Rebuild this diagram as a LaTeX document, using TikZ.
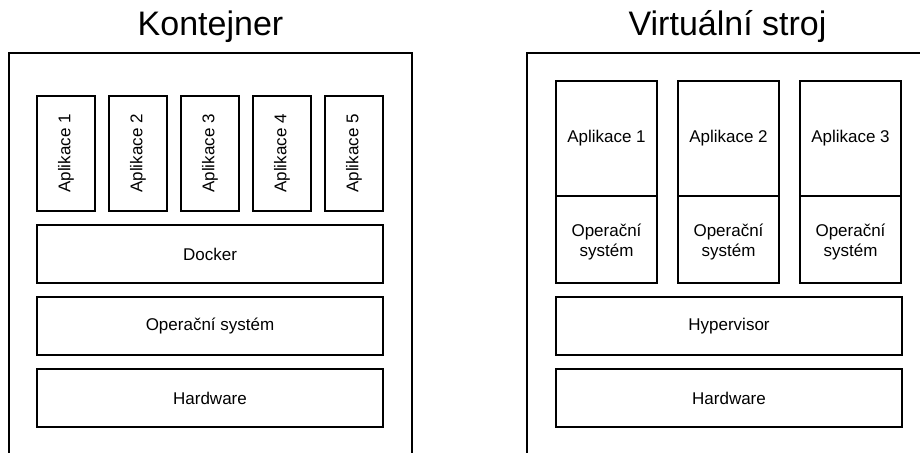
\documentclass[tikz,border=0pt]{standalone}
\usepackage{fontspec}
\setmainfont{Liberation Sans}
\begin{document}
\begin{tikzpicture}[x=1pt,y=-1pt,
  frame/.style={draw=black, line width=1.3pt},
  blk/.style={draw=black, line width=1.3pt, fill=white, inner sep=0pt,
    align=center, font=\fontsize{17}{20}\selectfont},
  lbl/.style={inner sep=0pt, align=center, font=\fontsize{17}{20}\selectfont},
  title/.style={font=\fontsize{34}{40}\selectfont, anchor=base}]
\useasboundingbox (0,0) rectangle (920,452);
\clip (0,0) rectangle (920,452);

% --- Containers ---
\node[title] (ttlC) at (210.5,36) {Kontejner};
\draw[frame] (9,460) -- (9,53) -- (412,53) -- (412,460);
\foreach \i/\cx in {1/66,2/138,3/210,4/282,5/354}
  \node[blk, rotate=90, minimum width=115, minimum height=58] (capp\i) at (\cx,153.5) {Aplikace \i};
\node[blk, minimum width=346, minimum height=58] (docker) at (210,254) {Docker};
\node[blk, minimum width=346, minimum height=58] (cos) at (210,326) {Operační systém};
\node[blk, minimum width=346, minimum height=58] (chw) at (210,398) {Hardware};

% --- Virtual machines ---
\node[title] (ttlV) at (727.5,36) {Virtuální stroj};
\draw[frame] (527,460) -- (527,53) -- (940,53) -- (940,460);
\foreach \i/\cx in {1/606.5,2/728.5,3/850.5}{
  \node[blk, minimum width=101, minimum height=115] (vapp\i) at (\cx,138.5) {Aplikace \i};
  \node[blk, minimum width=101, minimum height=87,
    label={[lbl, yshift=-3pt]center:Operační\\systém}] (vos\i) at (\cx,239.5) {};
}
\node[blk, minimum width=346, minimum height=58] (hyp) at (729,326) {Hypervisor};
\node[blk, minimum width=346, minimum height=58] (vhw) at (729,398) {Hardware};
\end{tikzpicture}
\end{document}
